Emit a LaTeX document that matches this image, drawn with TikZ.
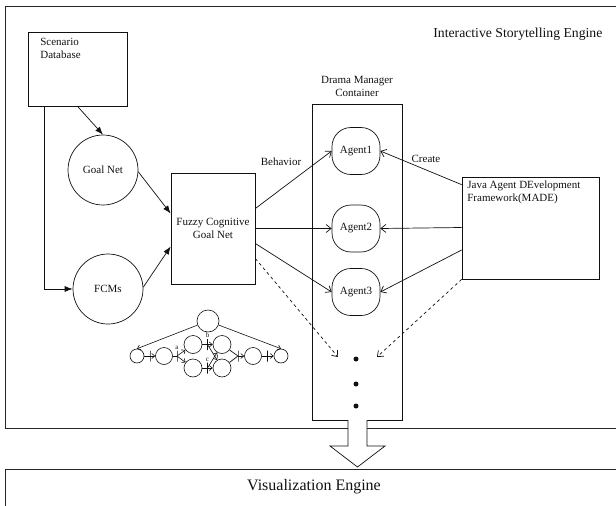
\documentclass[tikz,border=0pt]{standalone}
\usepackage{fontspec}
\setmainfont{Liberation Serif}
\usepackage{xcolor}
\usepackage{tikz}
\usetikzlibrary{arrows.meta}
\definecolor{StoryInk}{HTML}{111111}
\definecolor{StoryFrame}{HTML}{262626}

\begin{document}
\begin{tikzpicture}[x=1pt,y=-1pt, line width=0.7pt, StoryInk,
    lbl/.style={font=\fontsize{11pt}{13pt}\selectfont},
    tinylbl/.style={font=\fontsize{7pt}{8pt}\selectfont, inner sep=0.5pt},
    blockbox/.style={draw, rectangle, inner sep=0pt},
    bigcirc/.style={draw, circle, inner sep=0pt, minimum size=70pt, lbl},
    agentbox/.style={draw, rounded corners=19pt, inner sep=0pt, minimum width=48pt, minimum height=47pt, lbl},
    dotmark/.style={circle, fill, inner sep=0pt, minimum size=5pt},
    placecirc/.style={draw, circle, inner sep=0pt, line width=0.6pt},
    transbar/.style={draw, inner sep=0pt, minimum width=0pt, minimum height=11pt, line width=0.6pt},
    fillarrow/.style={-{Latex[length=8pt,width=6pt]}},
    openarrow/.style={-{Straight Barb[length=5pt,width=8pt]}},
    smallarrow/.style={-{Straight Barb[length=3pt,width=5pt]}, line width=0.6pt}]
  \clip (0,0) rectangle (616,506);

  % engine frames
  \draw[StoryFrame, line width=0.8pt] (630,6) -- (5,6) -- (5,428) -- (630,428);
  \draw[StoryFrame, line width=0.8pt] (630,469) -- (5,469) -- (5,520);
  \node[anchor=east, font=\fontsize{13.7pt}{16pt}\selectfont] (isetitle) at (606,34) {Interactive Storytelling Engine};
  \node[font=\fontsize{16pt}{19pt}\selectfont] (vetitle) at (314,487) {Visualization Engine};

  % left side
  \node[blockbox, minimum width=99pt, minimum height=74pt] (scenario) at (77.5,69) {};
  \node[lbl, align=left, anchor=north west, inner sep=0pt] (scenariotext) at (40,38) {Scenario\\Database};
  \node[bigcirc] (goalnet) at (103,170) {Goal Net};
  \node[bigcirc] (fcms) at (108,289) {FCMs};
  \node[blockbox, minimum width=84pt, minimum height=111pt, lbl, align=center] (fcgn) at (213,228.5) {Fuzzy Cognitive\\Goal Net};

  \draw[fillarrow] (scenario.south) -- (goalnet.north);
  \draw[fillarrow] ([xshift=17pt]scenario.south west) |- (fcms.west);
  \draw[fillarrow] (goalnet.-3) -- ([yshift=15pt]fcgn.west);
  \draw[fillarrow] (fcms.3) -- ([yshift=-18pt]fcgn.west);

  % drama manager
  \node[blockbox, minimum width=90pt, minimum height=316pt] (drama) at (357,262) {};
  \node[lbl, align=center] (dramatext) at (357,86) {Drama Manager\\Container};
  \node[agentbox] (agent1) at (356,151) {Agent1};
  \node[agentbox] (agent2) at (356,228.5) {Agent2};
  \node[agentbox] (agent3) at (356,292) {Agent3};
  \node[dotmark] (dot1) at (356,359) {};
  \node[dotmark] (dot2) at (356,384) {};
  \node[dotmark] (dot3) at (356,406) {};
  \coordinate (dashleft) at (338,357);
  \coordinate (dashright) at (377,357);

  \node[blockbox, minimum width=137pt, minimum height=102pt] (java) at (530.5,228) {};
  \node[lbl, align=left, anchor=north west, inner sep=0pt] (javatext) at (467,181) {Java Agent DEvelopment\\Framework(MADE)};

  \node[lbl] (behavior) at (281,162) {Behavior};
  \node[lbl] (create) at (426,159) {Create};

  \draw[openarrow] ([yshift=20pt]fcgn.east) -- (agent1.west);
  \draw[openarrow] (fcgn.east) -- (agent2.west);
  \draw[openarrow] ([yshift=-15pt]fcgn.east) -- (agent3.west);
  \draw[openarrow, dashed] ([yshift=-30pt]fcgn.east) -- (dashleft);
  \draw[openarrow] ([yshift=-8pt]java.north west) -- (agent1.east);
  \draw[openarrow] ([yshift=0.5pt]java.west) -- (agent2.east);
  \draw[openarrow] ([yshift=-22pt]java.west) -- (agent3.east);
  \draw[openarrow, dashed] (java.south west) -- (dashright);

  % hollow arrow down to visualization
  \draw[fill=white] (348,420) -- (348,446) -- (330,446) -- (357.5,467) -- (385,446) -- (367,446) -- (367,420);

  % small goal net
  \node[placecirc, minimum size=22pt] (sgtop) at (208,321) {};
  \node[placecirc, minimum size=14pt] (sg1) at (137,356) {};
  \node[placecirc, minimum size=17pt] (sg2) at (164,356) {};
  \node[placecirc, minimum size=18pt] (sg3) at (193,344.5) {};
  \node[placecirc, minimum size=18pt] (sg4) at (222,344.5) {};
  \node[placecirc, minimum size=18pt] (sg5) at (193,368) {};
  \node[placecirc, minimum size=18pt] (sg6) at (222,368) {};
  \node[placecirc, minimum size=17pt] (sg7) at (253,356) {};
  \node[placecirc, minimum size=14pt] (sg8) at (281,356) {};
  \node[transbar] (t1) at (150,356) {};
  \node[transbar, label={[tinylbl]above:a}] (ta) at (177,356) {};
  \node[transbar, label={[tinylbl]above:b}] (tb) at (207.5,344.5) {};
  \node[transbar, label={[tinylbl]above:c}] (tc) at (207.5,368) {};
  \node[transbar] (td) at (238,356) {};
  \node[transbar] (te) at (267.5,356) {};

  \draw[smallarrow] (sgtop) -- (sg1.north);
  \draw[smallarrow] (sgtop) -- (sg8.north);
  \draw (sg1) -- (t1);
  \draw[smallarrow] (t1) -- (sg2);
  \draw (sg2) -- (ta);
  \draw[smallarrow] (ta) -- (sg3);
  \draw[smallarrow] (ta) -- (sg5);
  \draw (sg3) -- (tb);
  \draw[smallarrow] (tb) -- (sg4);
  \draw[smallarrow] (tb) -- (sg6);
  \draw (sg5) -- (tc);
  \draw[smallarrow] (tc) -- (sg6);
  \draw[smallarrow] (tc) -- (sg4);
  \draw (sg4) -- (td);
  \draw (sg6) -- (td);
  \draw[smallarrow] (td) -- (sg7);
  \draw (sg7) -- (te);
  \draw[smallarrow] (te) -- (sg8);
\end{tikzpicture}
\end{document}
